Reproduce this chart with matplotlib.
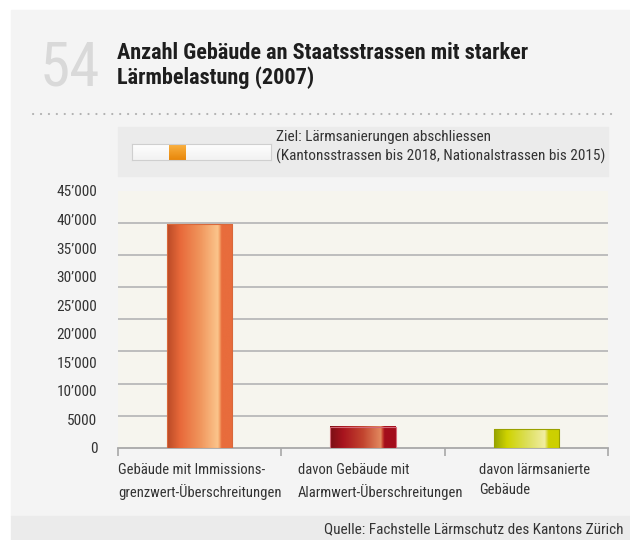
import numpy as np
import matplotlib
matplotlib.use("Agg")
import matplotlib.pyplot as plt
from matplotlib import font_manager
from matplotlib.colors import LinearSegmentedColormap
from matplotlib.patches import Rectangle
from matplotlib.lines import Line2D
from matplotlib.transforms import blended_transform_factory

# Daten
categories = [
    "Gebäude mit Immissions-\ngrenzwert-Überschreitungen",
    "davon Gebäude mit\nAlarmwert-Überschreitungen",
    "davon lärmsanierte\nGebäude",
]
values = [39200, 3700, 3200]
ytick_values = [0, 5000, 10000, 15000, 20000, 25000, 30000, 35000, 40000, 45000]
ytick_labels = ["0", "5000", "10’000", "15’000", "20’000", "25’000",
                "30’000", "35’000", "40’000", "45’000"]
label_left = [-0.5, 0.6, 1.71]

# Farbverläufe der Säulen (links -> rechts)
bar_stops = [
    [(0, "#b94a26"), (0.2, "#e8693a"), (0.5, "#f0955c"), (0.77, "#fbc48b"),
     (0.8, "#f4a268"), (0.83, "#e86c3c"), (1, "#e86c3c")],
    [(0, "#7a0f14"), (0.2, "#a8141e"), (0.5, "#c2452f"), (0.77, "#e2895f"),
     (0.8, "#c8402e"), (0.83, "#a30d1b"), (1, "#a30d1b")],
    [(0, "#94a300"), (0.2, "#cfd300"), (0.5, "#dcdf5a"), (0.77, "#f1eda2"),
     (0.8, "#dedc50"), (0.83, "#cdd000"), (1, "#cdd000")],
]
bar_edges = ["#d9683a", "#d46a78", "#99a000"]

# schmale Schrift suchen, sonst Roboto etwas kleiner
installed = {f.name for f in font_manager.fontManager.ttflist}
narrow = ["Liberation Sans Narrow", "DejaVu Sans Condensed", "Roboto Condensed",
          "Open Sans Condensed", "Noto Sans Condensed"]
found = [f for f in narrow if f in installed]
if found:
    family, k = found[0], 1.0
else:
    family, k = "Roboto", 0.84
plt.rcParams["font.family"] = [family, "DejaVu Sans"]

W, H = 630, 540
fig = plt.figure(figsize=(6.3, 5.4), dpi=100)
fig.patch.set_facecolor("white")


def fx(x):
    return x / W


def fy(y):
    return 1 - y / H


# Hintergrundflächen
fig.patches.append(Rectangle((fx(11), fy(516)), 1 - fx(11), fy(10) - fy(516),
                             transform=fig.transFigure, color="#f4f4f4", zorder=-2))
fig.patches.append(Rectangle((fx(11), 0), 1 - fx(11), fy(516),
                             transform=fig.transFigure, color="#ebebeb", zorder=-2))
fig.patches.append(Rectangle((fx(118), fy(176)), fx(608) - fx(118), fy(127) - fy(176),
                             transform=fig.transFigure, color="#ebebeb", zorder=-1))

# Kopf
fig.text(fx(40), fy(86), "54", fontsize=44 * (1 if found else 0.9), color="#d9d9d9",
         va="baseline", ha="left")
fig.text(fx(117), fy(84), "Anzahl Gebäude an Staatsstrassen mit starker\nLärmbelastung (2007)",
         fontsize=16 * k, fontweight="bold", color="#1e1e1e", va="baseline", ha="left",
         linespacing=1.12 / k)
fig.lines.append(Line2D([fx(33), fx(612)], [fy(114), fy(114)], transform=fig.transFigure,
                        color="#b0b0b0", lw=1.5, linestyle=(0, (0.1, 3.7)),
                        dash_capstyle="round"))

# Legende
lax = fig.add_axes([fx(132), fy(160), fx(271) - fx(132), fy(144) - fy(160)])
lax.imshow(np.linspace(0, 1, 50).reshape(-1, 1),
           cmap=LinearSegmentedColormap.from_list("w", ["#ffffff", "#f2f2f2"]),
           extent=[0, 1, 0, 1], aspect="auto")
lax.imshow(np.linspace(0, 1, 50).reshape(-1, 1),
           cmap=LinearSegmentedColormap.from_list("o", ["#fbb445", "#e8870a"]),
           extent=[0.265, 0.385, 0, 1], aspect="auto")
lax.set_xlim(0, 1)
lax.set_ylim(0, 1)
lax.set_xticks([])
lax.set_yticks([])
for s in lax.spines.values():
    s.set_color("#cfcfcf")
fig.text(fx(276), fy(147), "Ziel: Lärmsanierungen abschliessen\n(Kantonsstrassen bis 2018, Nationalstrassen bis 2015)",
         fontsize=11 * k, color="#333333", va="center", ha="left", linespacing=1.35 / k)

# Diagramm
ax = fig.add_axes([fx(118), fy(447.7), fx(608) - fx(118), fy(191) - fy(447.7)])
ax.set_facecolor("#f6f5ee")
x = np.arange(len(values))
bars = ax.bar(x, values, width=0.4, color="none", edgecolor=bar_edges, lw=0.8, zorder=4)
grad = np.linspace(0, 1, 256).reshape(1, -1)
for bar, stops in zip(bars, bar_stops):
    cmap = LinearSegmentedColormap.from_list("g", stops)
    ax.imshow(grad, cmap=cmap, aspect="auto", zorder=3,
              extent=[bar.get_x(), bar.get_x() + bar.get_width(), 0, bar.get_height()])

ax.set_xlim(-0.5, 2.5)
ax.set_ylim(0, 45000)
ax.set_yticks(ytick_values)
ax.set_yticklabels(ytick_labels)
ax.set_yticks(np.linspace(0, 45000, 9), minor=True)
ax.grid(axis="y", which="minor", color="#b9b9b9", lw=1.3, zorder=1)
ax.tick_params(axis="y", which="both", length=0, pad=15, labelsize=11 * k,
               labelcolor="#333333")
ax.set_xticks([-0.5, 0.5, 1.5, 2.5])
ax.set_xticklabels([])
ax.tick_params(axis="x", length=6, width=1.2, color="#a8a8a8")
for side in ["left", "right", "top"]:
    ax.spines[side].set_visible(False)
ax.spines["bottom"].set_color("#a8a8a8")
ax.spines["bottom"].set_linewidth(1.3)

trans = blended_transform_factory(ax.transData, ax.transAxes)
for lx, lab in zip(label_left, categories):
    ax.text(lx, -0.06, lab, transform=trans, ha="left", va="top", fontsize=10.5 * k,
            color="#333333", linespacing=1.55 / k)

# Quelle
fig.text(fx(624), fy(529), "Quelle: Fachstelle Lärmschutz des Kantons Zürich",
         fontsize=11 * k, color="#333333", ha="right", va="center")

fig.savefig("out.png", dpi=100)
